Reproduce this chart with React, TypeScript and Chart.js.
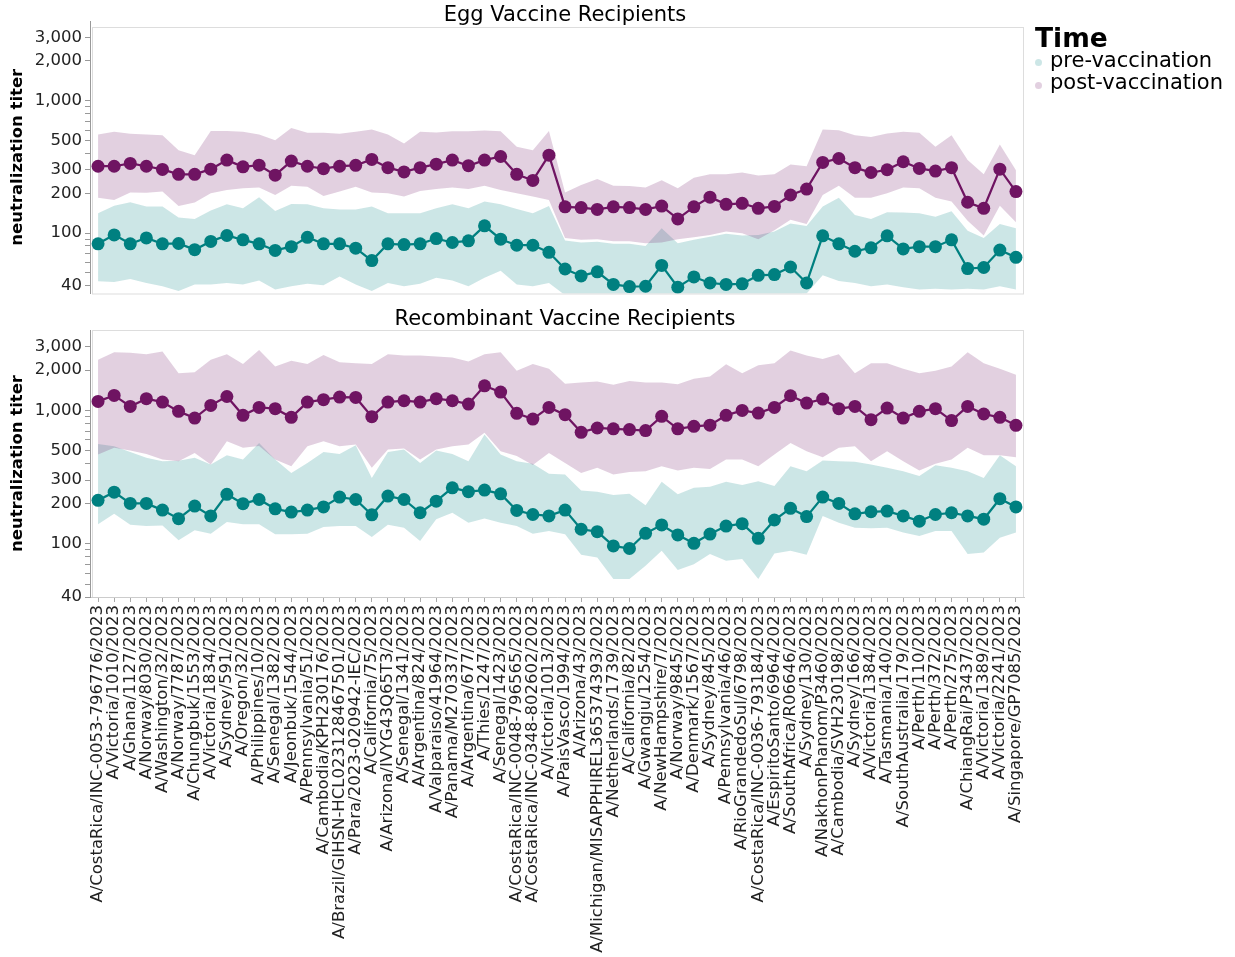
import React, { useEffect, useRef } from "react";
import { Chart, registerables } from "chart.js";

Chart.register(...registerables);
Chart.defaults.font.family = "'DejaVu Sans', Verdana, sans-serif";

// Strain names shared by both panels
const strains = [
  "A/CostaRica/INC-0053-796776/2023", "A/Victoria/1010/2023", "A/Ghana/1127/2023", "A/Norway/8030/2023",
  "A/Washington/32/2023", "A/Norway/7787/2023", "A/Chungbuk/1553/2023", "A/Victoria/1834/2023",
  "A/Sydney/591/2023", "A/Oregon/32/2023", "A/Philippines/10/2023", "A/Senegal/1382/2023",
  "A/Jeonbuk/1544/2023", "A/Pennsylvania/51/2023", "A/Cambodia/KPH230176/2023",
  "A/Brazil/GIHSN-HCL023128467501/2023", "A/Para/2023-020942-IEC/2023", "A/California/75/2023",
  "A/Arizona/IVYG43Q65T3/2023", "A/Senegal/1341/2023", "A/Argentina/824/2023", "A/Valparaiso/41964/2023",
  "A/Panama/M270337/2023", "A/Argentina/677/2023", "A/Thies/1247/2023", "A/Senegal/1423/2023",
  "A/CostaRica/INC-0048-796565/2023", "A/CostaRica/INC-0348-802602/2023", "A/Victoria/1013/2023",
  "A/PaisVasco/1994/2023", "A/Arizona/43/2023", "A/Michigan/MISAPPHIREL365374393/2023",
  "A/Netherlands/1739/2023", "A/California/82/2023", "A/Gwangju/1254/2023", "A/NewHampshire/7/2023",
  "A/Norway/9845/2023", "A/Denmark/1567/2023", "A/Sydney/845/2023", "A/Pennsylvania/46/2023",
  "A/RioGrandedoSul/6798/2023", "A/CostaRica/INC-0036-793184/2023", "A/EspiritoSanto/6964/2023",
  "A/SouthAfrica/R06646/2023", "A/Sydney/130/2023", "A/NakhonPhanom/P3460/2023",
  "A/Cambodia/SVH230198/2023", "A/Sydney/166/2023", "A/Victoria/1384/2023", "A/Tasmania/140/2023",
  "A/SouthAustralia/179/2023", "A/Perth/110/2023", "A/Perth/372/2023", "A/Perth/275/2023",
  "A/ChiangRai/P3437/2023", "A/Victoria/1389/2023", "A/Victoria/2241/2023", "A/Singapore/GP7085/2023",
];

// Egg vaccine recipients: geometric mean titers and interval bounds
const eggPreMean = [83, 97, 83, 92, 83, 83.5, 75, 86.6, 96, 89, 83, 74, 79, 93, 83, 83, 77, 62, 83, 82, 83, 91, 85, 87.5, 113.5, 90, 81, 81, 71.6, 53.6, 47.5, 51, 41, 39.5, 39.7, 57, 39, 46.7, 42, 41, 41.4, 48, 48.6, 55.5, 42, 95.4, 83, 73, 77.5, 95.4, 76, 79, 79, 89, 54, 55, 74.5, 65.6];
const eggPreLow = [43.3, 42.8, 45, 42, 39.7, 36.5, 41, 41, 42, 41, 43.8, 37.5, 39.7, 41.4, 40.4, 47, 41, 36.5, 42, 39.7, 41.4, 46, 43.8, 39.7, 46, 52, 41, 39.7, 42, 34, 34, 34, 34, 34, 34, 34, 34, 34, 34, 34, 34, 34, 34, 34, 35, 48, 43.5, 42, 39.7, 41, 39, 37.5, 38, 37.5, 38, 37.5, 39.7, 37.5];
const eggPreHigh = [141, 161, 171, 159, 159, 131, 128, 148, 165, 154, 187, 147, 166, 165, 154, 151, 151, 159, 141, 141, 141, 154, 165, 154, 173, 165, 152, 141, 160, 88, 85, 86, 83, 83, 80, 109, 84, 89, 94, 99, 96, 97, 103, 118, 113, 159, 185, 137, 128, 144, 143, 141, 133, 146, 104, 92, 117, 109];
const eggPostMean = [320, 320, 336, 320, 303, 278, 278, 304, 356, 317, 326, 274, 350, 320, 307, 320, 325, 360, 312, 290, 312, 332, 356, 323, 356, 379, 278, 250, 388, 158, 156, 151, 158, 156, 151, 160, 128, 158, 187, 165, 168, 154, 159, 194, 215, 342, 366, 312, 287, 301, 346, 308, 294, 312, 171, 154, 304, 206];
const eggPostLow = [185, 178, 203, 202, 206, 160, 170, 200, 212, 218, 221, 194, 228, 224, 191, 206, 224, 203, 200, 189, 208, 215, 221, 215, 228, 212, 200, 189, 178, 92, 89, 90, 87, 87, 84, 85, 90, 93, 97, 103, 100, 90, 105, 126, 117, 194, 228, 185, 185, 200, 221, 218, 185, 173, 124, 96, 161, 121];
const eggPostHigh = [555, 582, 563, 555, 548, 423, 388, 591, 591, 582, 555, 503, 623, 572, 572, 563, 582, 605, 555, 475, 582, 575, 588, 588, 595, 588, 449, 423, 591, 203, 231, 256, 228, 227, 221, 251, 218, 262, 279, 278, 287, 272, 278, 330, 320, 605, 598, 548, 533, 565, 582, 572, 449, 548, 356, 278, 467, 299];

// Recombinant vaccine recipients: geometric mean titers and interval bounds
const recPreMean = [212, 244, 201, 201, 179, 154.5, 192, 162, 235, 200, 215, 183, 173, 179, 189, 224, 215, 165, 228, 215, 171, 209, 263, 246, 253, 237, 178, 166, 162, 179, 128.7, 123.5, 96.6, 92.3, 120, 138.6, 116.7, 101, 118.5, 136, 141.8, 110, 151, 184.6, 160, 224, 201, 168, 174, 176, 162, 148, 166, 171, 162, 153, 218, 189];
const recPreLow = [140, 168, 139, 136, 137, 106.5, 126.6, 119, 146, 140, 140, 118, 118, 119, 134, 136, 136, 112.7, 139, 132, 105, 153, 171, 144, 155, 144, 136, 119, 125, 118, 82.8, 79, 54.5, 54.5, 68.5, 88.7, 63.6, 70.5, 83.8, 74.7, 76.9, 54.5, 84.7, 88.7, 82.8, 162, 144, 132, 131, 132, 121.5, 114.7, 125, 125, 83.8, 86, 111, 121.5];
const recPreHigh = [560, 539, 488, 441, 416, 420, 441, 394, 461, 429, 570, 429, 340, 404, 488, 472, 548, 312, 488, 509, 404, 500, 472, 416, 660, 467, 416, 398, 335, 331, 251, 246, 232, 237, 195, 292, 235, 263, 268, 292, 276, 295, 271, 382, 350, 421, 416, 412, 394, 371, 350, 322, 388, 371, 350, 312, 461, 382];
const recPostMean = [1167, 1294, 1071, 1223, 1153, 983, 876, 1090, 1271, 918, 1053, 1029, 887, 1153, 1202, 1257, 1250, 897, 1153, 1181, 1153, 1223, 1181, 1114, 1528, 1370, 950, 861, 1053, 929, 685, 738, 727, 718, 706, 902, 727, 760, 775, 918, 1000, 955, 1053, 1287, 1134, 1215, 1029, 1071, 852, 1041, 876, 983, 1029, 838, 1071, 939, 887, 773];
const recPostLow = [467, 524, 500, 472, 429, 416, 480, 394, 587, 524, 540, 429, 382, 539, 587, 539, 555, 371, 509, 518, 429, 509, 539, 555, 680, 494, 455, 390, 480, 404, 340, 371, 331, 346, 350, 382, 355, 371, 364, 429, 429, 382, 467, 570, 494, 446, 524, 539, 416, 494, 416, 355, 398, 429, 524, 461, 461, 446];
const recPostHigh = [2390, 2720, 2700, 2630, 2757, 1896, 1930, 2390, 2630, 2230, 2838, 2130, 2350, 2230, 2603, 2290, 2250, 2230, 2630, 2573, 2573, 2530, 2485, 2320, 2630, 2720, 1979, 2230, 2047, 1586, 1614, 1646, 1555, 1660, 1614, 1614, 1570, 1722, 1794, 2220, 1896, 2180, 2250, 2805, 2573, 2430, 2630, 1896, 2250, 2250, 2047, 1896, 1979, 2130, 2720, 2250, 2047, 1846];

// Log axis tick positions and which of them carry a label
const yTickValues = [40, 50, 60, 70, 80, 90, 100, 200, 300, 400, 500, 600, 700, 800, 900, 1000, 2000, 3000];
const yLabeledTicks = [40, 100, 200, 300, 500, 1000, 2000, 3000];

const TEAL = "rgb(0,128,128)";
const PURPLE = "rgb(112,20,98)";
const TEAL_BAND = "rgba(0,128,128,0.2)";
const PURPLE_BAND = "rgba(112,20,98,0.2)";

type PanelSpec = {
  preMean: number[]; preLow: number[]; preHigh: number[];
  postMean: number[]; postLow: number[]; postHigh: number[];
  min: number; max: number;
  showX: boolean;
  padTop: number; padBottom: number;
  frameTop?: number;
};

function bandDataset(data: number[], color: string, fill: string | false) {
  return {
    data,
    borderWidth: 0,
    borderColor: "transparent",
    backgroundColor: color,
    pointRadius: 0,
    pointHoverRadius: 0,
    pointHitRadius: 0,
    fill,
  };
}

function meanDataset(data: number[], color: string) {
  return {
    data,
    borderColor: color,
    borderWidth: 2.25,
    backgroundColor: color,
    pointBackgroundColor: color,
    pointBorderWidth: 0,
    pointRadius: 6.5,
    pointHoverRadius: 6.5,
    fill: false,
    tension: 0,
  };
}

function buildConfig(p: PanelSpec): any {
  const frame = {
    id: "frame",
    beforeDraw(chart: any) {
      const { ctx, chartArea: a } = chart;
      const top = p.frameTop ?? a.top;
      ctx.save();
      ctx.strokeStyle = "#dddddd";
      ctx.lineWidth = 1;
      ctx.strokeRect(a.left + 2.5, top + 0.5, a.right - a.left - 3, a.bottom - top);
      ctx.restore();
    },
  };
  return {
    type: "line",
    data: {
      labels: strains,
      datasets: [
        bandDataset(p.postHigh, PURPLE_BAND, "+1"),
        bandDataset(p.postLow, PURPLE_BAND, false),
        bandDataset(p.preHigh, TEAL_BAND, "+1"),
        bandDataset(p.preLow, TEAL_BAND, false),
        meanDataset(p.preMean, TEAL),
        meanDataset(p.postMean, PURPLE),
      ],
    },
    options: {
      responsive: false,
      animation: false,
      layout: { padding: { top: p.padTop, bottom: p.padBottom, left: 0, right: 211 } },
      plugins: { legend: { display: false }, tooltip: { enabled: false } },
      events: [],
      scales: {
        x: {
          type: "category",
          offset: true,
          display: p.showX,
          afterFit: (s: any) => { if (p.showX) s.height = 360; },
          ticks: {
            autoSkip: false,
            minRotation: 90,
            maxRotation: 90,
            padding: 3,
            color: "#222",
            font: { size: 16.5 },
          },
          grid: { drawOnChartArea: false, drawTicks: true, tickLength: 5, color: "#aaaaaa" },
          border: { display: true, color: "#cccccc" },
        },
        y: {
          type: "logarithmic",
          min: p.min,
          max: p.max,
          afterFit: (s: any) => {
            s.width = 90;
            s.paddingTop = 0;
            s.paddingBottom = 0;
          },
          afterBuildTicks: (s: any) => { s.ticks = yTickValues.map((v) => ({ value: v })); },
          ticks: {
            autoSkip: false,
            padding: 3,
            color: "#222",
            font: { size: 16.5 },
            callback: (v: number) => (yLabeledTicks.includes(v) ? v.toLocaleString("en-US") : ""),
          },
          grid: { drawOnChartArea: false, drawTicks: true, tickLength: 5, color: "#999999" },
          border: { display: true, color: "#999999" },
          title: {
            display: true,
            text: "neutralization titer",
            color: "#000",
            font: { size: 16.5, weight: "bold" },
            padding: { top: 8, bottom: 0 },
          },
        },
      },
    },
    plugins: [frame],
  };
}

function ChartCanvas({ top, height, spec }: { top: number; height: number; spec: PanelSpec }) {
  const ref = useRef<HTMLCanvasElement>(null);
  useEffect(() => {
    const chart = new Chart(ref.current as HTMLCanvasElement, buildConfig(spec));
    return () => chart.destroy();
  }, []);
  return (
    <canvas
      ref={ref}
      width={1235}
      height={height}
      style={{ position: "absolute", left: 0, top, width: 1235, height }}
    />
  );
}

const textBase: React.CSSProperties = {
  position: "absolute",
  fontFamily: "'DejaVu Sans', Verdana, sans-serif",
  color: "#000",
  lineHeight: 1,
  whiteSpace: "nowrap",
};

function LegendItem({ top, color, label }: { top: number; color: string; label: string }) {
  return (
    <>
      <div
        style={{
          position: "absolute", left: 1034.5, top: top - 3.5, width: 7, height: 7,
          borderRadius: "50%", background: color,
        }}
      />
      <div style={{ ...textBase, left: 1050, top: top - 13, fontSize: 21 }}>{label}</div>
    </>
  );
}

export default function App() {
  return (
    <div style={{ position: "absolute", left: 0, top: 0, width: 1235, height: 957, background: "#fff", overflow: "hidden" }}>
      <ChartCanvas
        top={0}
        height={300}
        spec={{
          preMean: eggPreMean, preLow: eggPreLow, preHigh: eggPreHigh,
          postMean: eggPostMean, postLow: eggPostLow, postHigh: eggPostHigh,
          min: 35, max: 4000, showX: false, padTop: 21, padBottom: 5, frameTop: 27,
        }}
      />
      <ChartCanvas
        top={300}
        height={657}
        spec={{
          preMean: recPreMean, preLow: recPreLow, preHigh: recPreHigh,
          postMean: recPostMean, postLow: recPostLow, postHigh: recPostHigh,
          min: 40, max: 4000, showX: true, padTop: 30, padBottom: 0,
        }}
      />
      <div style={{ ...textBase, left: 0, width: 1130, textAlign: "center", top: 4, fontSize: 21 }}>
        Egg Vaccine Recipients
      </div>
      <div style={{ ...textBase, left: 0, width: 1130, textAlign: "center", top: 308, fontSize: 21 }}>
        Recombinant Vaccine Recipients
      </div>
      <div style={{ ...textBase, left: 1035, top: 25, fontSize: 26.5, fontWeight: "bold" }}>Time</div>
      <LegendItem top={62.5} color={TEAL_BAND} label="pre-vaccination" />
      <LegendItem top={85} color={PURPLE_BAND} label="post-vaccination" />
    </div>
  );
}
